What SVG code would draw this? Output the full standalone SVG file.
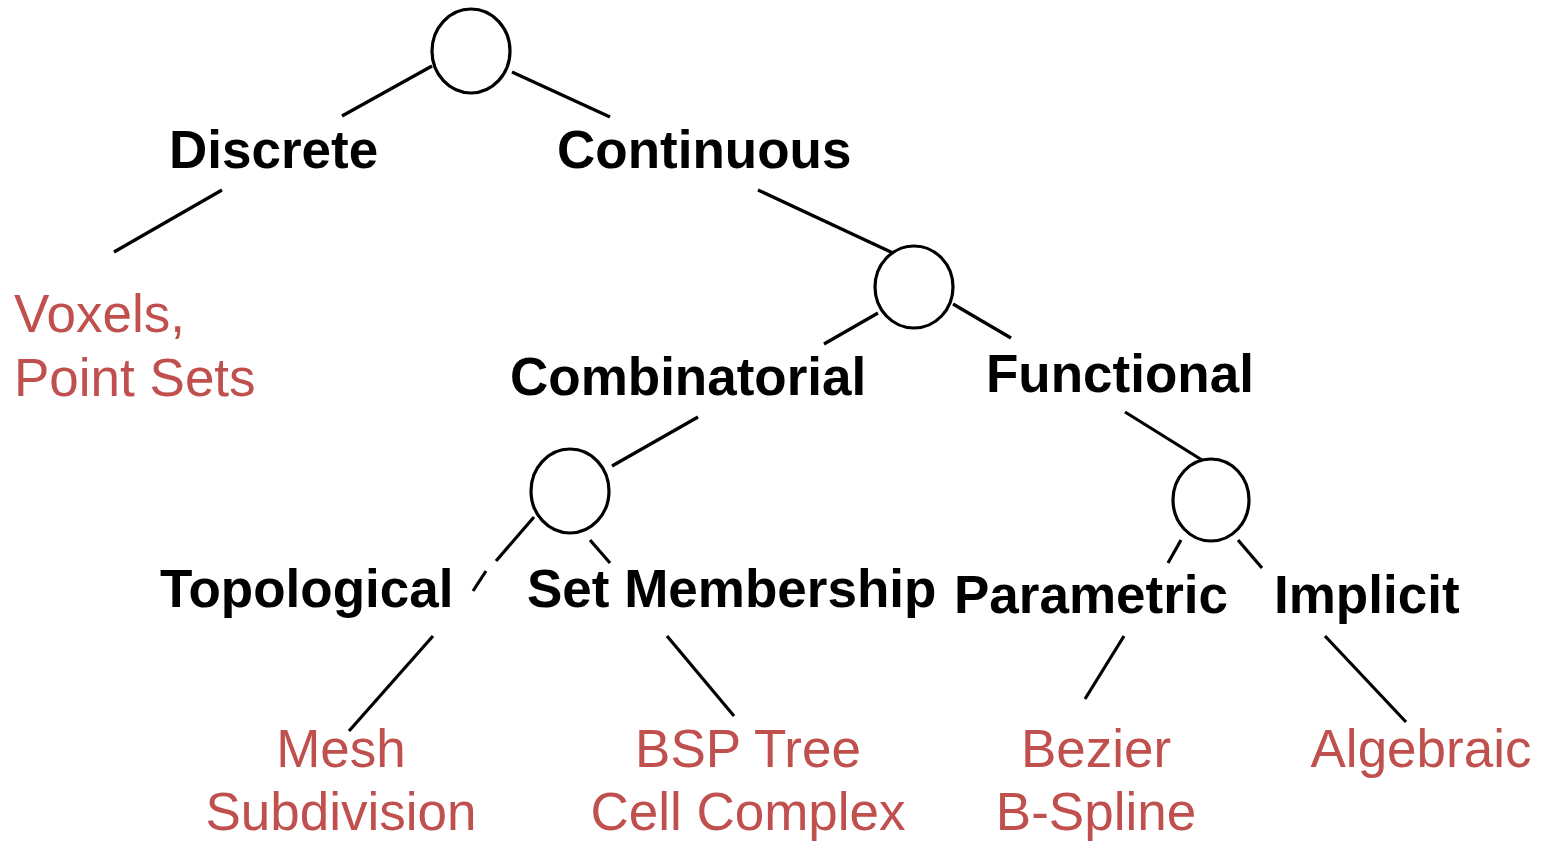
<svg xmlns="http://www.w3.org/2000/svg" width="1550" height="841" viewBox="0 0 1550 841">
  <style>
    .node { fill: #ffffff; stroke: #000000; stroke-width: 3.2; }
    .edge { stroke: #000000; stroke-width: 3.2; fill: none; }
    .cat { font-family: "Liberation Sans", Arial, sans-serif; font-weight: bold; font-size: 53px; fill: #000000; }
    .leaf { font-family: "Liberation Sans", Arial, sans-serif; font-size: 53px; fill: #C0504D; }
  </style>
  <rect width="1550" height="841" fill="#ffffff"/>

  <!-- tree connectors -->
  <g id="connectors">
    <line class="edge" x1="432" y1="66" x2="342" y2="116"/>
    <line class="edge" x1="512" y1="72" x2="610" y2="117"/>
    <line class="edge" x1="222" y1="190" x2="114" y2="252"/>
    <line class="edge" x1="758" y1="190" x2="893" y2="253"/>
    <line class="edge" x1="878" y1="313" x2="824" y2="344"/>
    <line class="edge" x1="953" y1="304" x2="1011" y2="338"/>
    <line class="edge" x1="698" y1="417" x2="612" y2="466"/>
    <line class="edge" x1="1125" y1="412" x2="1202" y2="460"/>
    <line class="edge" x1="534" y1="517" x2="496" y2="561"/>
    <line class="edge" x1="486" y1="571" x2="473" y2="591"/>
    <line class="edge" x1="590" y1="540" x2="610" y2="563"/>
    <line class="edge" x1="1181" y1="540" x2="1168" y2="563"/>
    <line class="edge" x1="1238" y1="540" x2="1262" y2="568"/>
    <line class="edge" x1="433" y1="636" x2="349" y2="731"/>
    <line class="edge" x1="667" y1="636" x2="734" y2="716"/>
    <line class="edge" x1="1124" y1="636" x2="1085" y2="699"/>
    <line class="edge" x1="1325" y1="636" x2="1406" y2="722"/>
  </g>

  <!-- branch points -->
  <g id="root"><ellipse class="node" cx="471" cy="51" rx="39" ry="42"/></g>
  <g id="continuous-split"><ellipse class="node" cx="914" cy="287" rx="39" ry="41"/></g>
  <g id="combinatorial-split"><ellipse class="node" cx="570" cy="491" rx="39" ry="42"/></g>
  <g id="functional-split"><ellipse class="node" cx="1211" cy="500" rx="38" ry="41"/></g>

  <!-- category labels -->
  <g id="discrete"><text class="cat" x="169" y="168">Discrete</text></g>
  <g id="continuous"><text class="cat" x="557" y="168">Continuous</text></g>
  <g id="combinatorial"><text class="cat" x="510" y="395">Combinatorial</text></g>
  <g id="functional"><text class="cat" x="986" y="392">Functional</text></g>
  <g id="topological"><text class="cat" x="160" y="607">Topological</text></g>
  <g id="set-membership"><text class="cat" x="527" y="607">Set Membership</text></g>
  <g id="parametric"><text class="cat" x="954" y="613">Parametric</text></g>
  <g id="implicit"><text class="cat" x="1274" y="613">Implicit</text></g>

  <!-- representation leaves -->
  <g id="voxels">
    <text class="leaf" x="14" y="332">Voxels,</text>
    <text class="leaf" x="14" y="396">Point Sets</text>
  </g>
  <g id="mesh">
    <text class="leaf" x="341" y="767" text-anchor="middle">Mesh</text>
    <text class="leaf" x="341" y="830" text-anchor="middle">Subdivision</text>
  </g>
  <g id="bsp">
    <text class="leaf" x="748" y="767" text-anchor="middle">BSP Tree</text>
    <text class="leaf" x="748" y="830" text-anchor="middle">Cell Complex</text>
  </g>
  <g id="bezier">
    <text class="leaf" x="1096" y="767" text-anchor="middle">Bezier</text>
    <text class="leaf" x="1096" y="830" text-anchor="middle">B-Spline</text>
  </g>
  <g id="algebraic">
    <text class="leaf" x="1421" y="767" text-anchor="middle">Algebraic</text>
  </g>
</svg>
